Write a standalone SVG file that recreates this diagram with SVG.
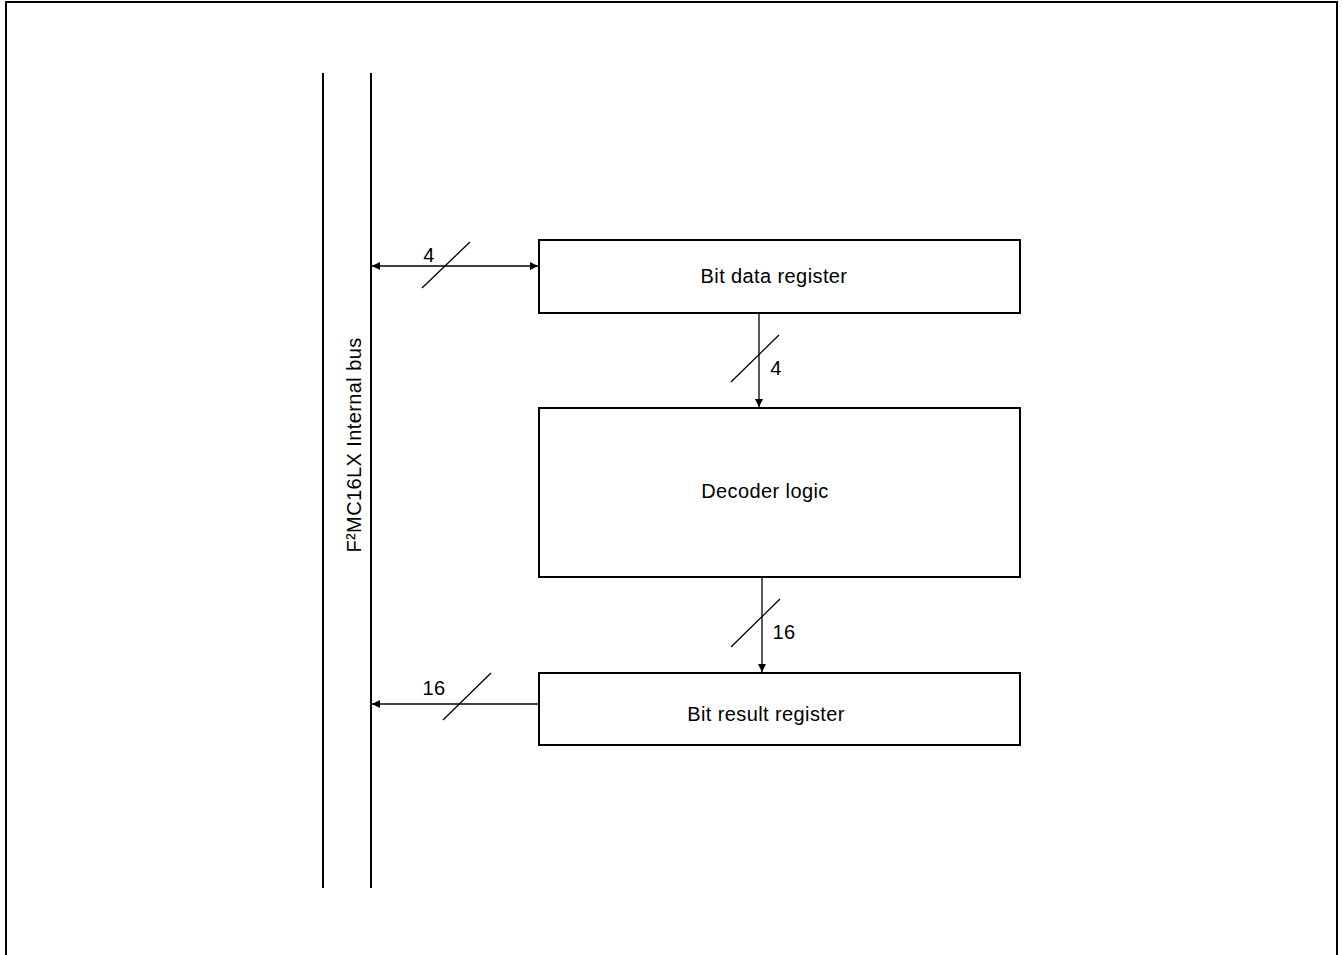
<svg xmlns="http://www.w3.org/2000/svg" width="1342" height="955" viewBox="0 0 1342 955">
<style>
.box{fill:#fff;stroke:#000;stroke-width:2}
.bus{stroke:#000;stroke-width:2}
.ln{stroke:#000;stroke-width:1.3;fill:none}
.t{font-family:"Liberation Sans",Arial,sans-serif;font-size:20px;letter-spacing:0.4px;fill:#000}
</style>
<defs>
<marker id="ah" viewBox="0 0 10 10" refX="10" refY="5" markerWidth="13" markerHeight="8" markerUnits="userSpaceOnUse" orient="auto-start-reverse">
<path d="M0,0 L10,5 L0,10 z" fill="#000"/>
</marker>
</defs>
<rect width="1342" height="955" fill="#fff"/>
<path d="M6,960 V2 H1337 V960" fill="none" stroke="#000" stroke-width="2"/>
<g id="bus">
<line class="bus" x1="323" y1="73" x2="323" y2="888"/>
<line class="bus" x1="371" y1="73" x2="371" y2="888"/>
<text class="t" transform="translate(361,445) rotate(-90)" text-anchor="middle">F²MC16LX Internal bus</text>
</g>
<g id="bitdata">
<rect class="box" x="539" y="240" width="481" height="73"/>
<text class="t" x="774" y="283" text-anchor="middle">Bit data register</text>
</g>
<g id="decoder">
<rect class="box" x="539" y="408" width="481" height="169"/>
<text class="t" x="765" y="498" text-anchor="middle">Decoder logic</text>
</g>
<g id="bitresult">
<rect class="box" x="539" y="673" width="481" height="72"/>
<text class="t" x="766" y="721" text-anchor="middle">Bit result register</text>
</g>
<g id="connectors">
<line class="ln" x1="372" y1="266" x2="538" y2="266" marker-start="url(#ah)" marker-end="url(#ah)"/>
<line class="ln" x1="422" y1="288" x2="470" y2="242"/>
<text class="t" x="429" y="262" text-anchor="middle">4</text>
<line class="ln" x1="759" y1="313" x2="759" y2="407" marker-end="url(#ah)"/>
<line class="ln" x1="731" y1="382" x2="779" y2="335"/>
<text class="t" x="776" y="375" text-anchor="middle">4</text>
<line class="ln" x1="762" y1="577" x2="762" y2="672" marker-end="url(#ah)"/>
<line class="ln" x1="731" y1="647" x2="780" y2="599"/>
<text class="t" x="784" y="639" text-anchor="middle">16</text>
<line class="ln" x1="539" y1="704" x2="372" y2="704" marker-end="url(#ah)"/>
<line class="ln" x1="443" y1="720" x2="491" y2="673"/>
<text class="t" x="434" y="695" text-anchor="middle">16</text>
</g>
</svg>
